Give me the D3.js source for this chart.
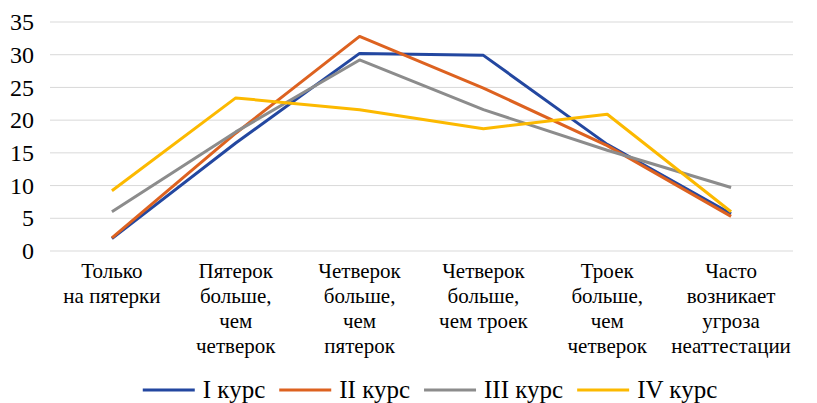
<!DOCTYPE html>
<html>
<head>
<meta charset="utf-8">
<script src="https://cdn.jsdelivr.net/npm/d3@7"></script>
</head>
<body style="margin:0">
<svg id="plot" width="817" height="403"></svg>
<script>
// categories, each split into the lines shown under the axis
const categories = [
  ["Только", "на пятерки"],
  ["Пятерок", "больше,", "чем", "четверок"],
  ["Четверок", "больше,", "чем", "пятерок"],
  ["Четверок", "больше,", "чем троек"],
  ["Троек", "больше,", "чем", "четверок"],
  ["Часто", "возникает", "угроза", "неаттестации"]
];

const seriesNames = ["I курс", "II курс", "III курс", "IV курс"];
const course1 = [1.9, 16.5, 30.2, 29.9, 16.3, 5.7];
const course2 = [2.0, 18.0, 32.8, 24.9, 16.1, 5.3];
const course3 = [6.0, 18.2, 29.2, 21.6, 15.4, 9.7];
const course4 = [9.2, 23.4, 21.6, 18.7, 20.9, 6.0];
const yTicks = [0, 5, 10, 15, 20, 25, 30, 35];

const colors = ["#2347a0", "#dd6220", "#8c8c8c", "#fcb900"];
const allSeries = [course1, course2, course3, course4];
const FONT = "Liberation Serif";

const W = 817, H = 403;
const margin = { top: 22, right: 24, bottom: 152, left: 50 };
const width = W - margin.left - margin.right;
const height = H - margin.top - margin.bottom;

const svg = d3.select("#plot");
const g = svg.append("g").attr("transform", `translate(${margin.left},${margin.top})`);

const x = d3.scaleBand()
  .domain(d3.range(categories.length))
  .range([0, width]);

const y = d3.scaleLinear()
  .domain([0, 35])
  .range([height, 0]);

// gridlines
g.append("g")
  .selectAll("line")
  .data(yTicks)
  .enter().append("line")
  .attr("x1", 0)
  .attr("x2", width)
  .attr("y1", d => y(d))
  .attr("y2", d => y(d))
  .attr("stroke", "#d9d9d9")
  .attr("stroke-width", 1);

// y tick labels
g.append("g")
  .selectAll("text")
  .data(yTicks)
  .enter().append("text")
  .attr("x", -16)
  .attr("y", d => y(d))
  .attr("dy", "0.34em")
  .attr("text-anchor", "end")
  .attr("font-family", FONT)
  .attr("font-size", 24)
  .attr("fill", "#000")
  .text(d => d);

// category labels
const xLab = g.append("g")
  .selectAll("text")
  .data(categories)
  .enter().append("text")
  .attr("text-anchor", "middle")
  .attr("x", (d, i) => x(i) + x.bandwidth() / 2)
  .attr("y", height + 27)
  .attr("font-family", FONT)
  .attr("font-size", 21)
  .attr("fill", "#000");

xLab.selectAll("tspan")
  .data(d => d)
  .enter().append("tspan")
  .attr("x", function () { return d3.select(this.parentNode).attr("x"); })
  .attr("dy", (d, i) => i === 0 ? 0 : 25)
  .text(d => d);

// lines
const line = d3.line()
  .x((d, i) => x(i) + x.bandwidth() / 2)
  .y(d => y(d));

g.selectAll(".series")
  .data(allSeries)
  .enter().append("path")
  .attr("class", "series")
  .attr("fill", "none")
  .attr("stroke", (d, i) => colors[i])
  .attr("stroke-width", 3)
  .attr("stroke-linejoin", "round")
  .attr("d", line);

// legend
const legend = svg.append("g");
let cursor = 0;
seriesNames.forEach((name, i) => {
  const item = legend.append("g").attr("transform", `translate(${cursor},0)`);
  item.append("line")
    .attr("x1", 0).attr("x2", 52)
    .attr("y1", 0).attr("y2", 0)
    .attr("stroke", colors[i])
    .attr("stroke-width", 3);
  const t = item.append("text")
    .attr("x", 60)
    .attr("y", 8)
    .attr("font-family", FONT)
    .attr("font-size", 25)
    .attr("fill", "#000")
    .text(name);
  cursor += 60 + t.node().getComputedTextLength() + 14;
});
cursor -= 14;
legend.attr("transform", `translate(${430 - cursor / 2},390)`);
</script>
</body>
</html>
